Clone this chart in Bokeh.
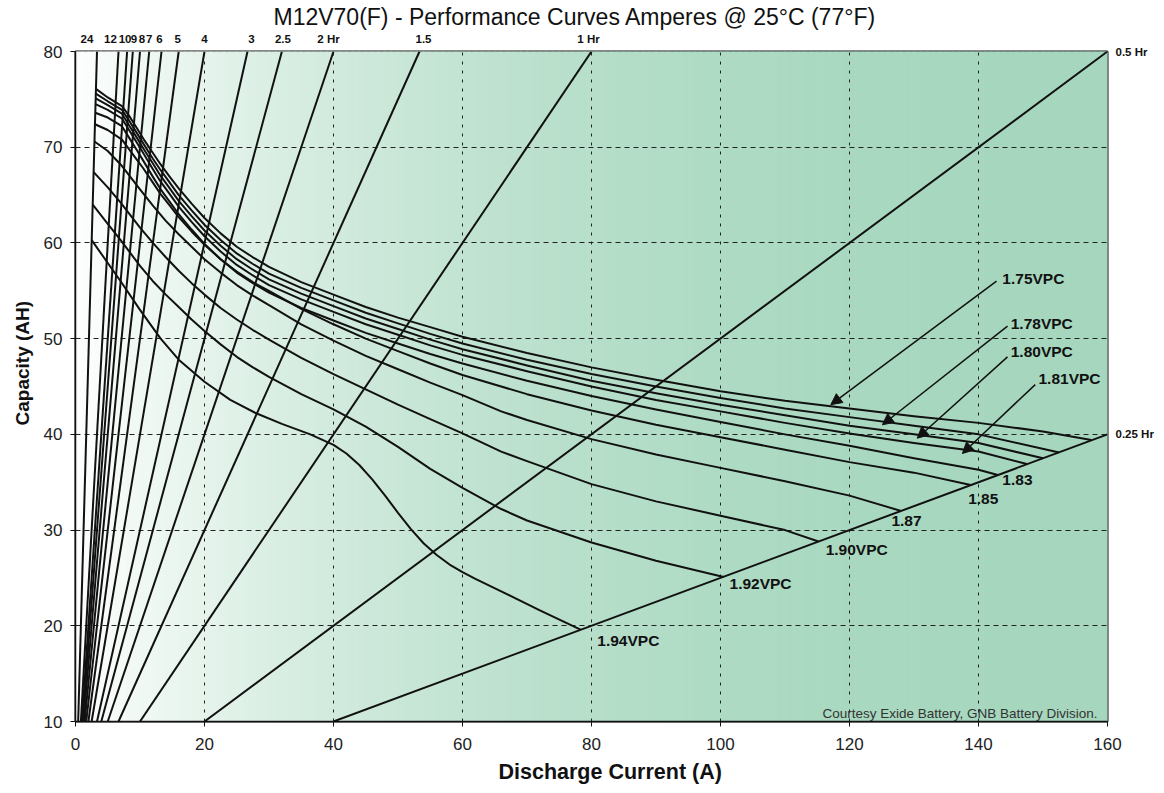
import numpy as np
from bokeh.plotting import figure
from bokeh.models import (ColumnDataSource, Arrow, NormalHead, Range1d, Label, Title,
                          LinearAxis, FixedTicker)
from bokeh.embed import file_html
from bokeh.resources import INLINE
from bokeh.core.properties import value

# ---------------- data ----------------
X_MIN, X_MAX = 0, 160
Y_MIN, Y_MAX = 10, 80
x_ticks = [0, 20, 40, 60, 80, 100, 120, 140, 160]
y_ticks = [10, 20, 30, 40, 50, 60, 70, 80]

# constant-time (hour-rate) lines: capacity = hours * current
hour_rates = [24, 12, 10, 9, 8, 7, 6, 5, 4, 3, 2.5, 2, 1.5, 1, 0.5, 0.25]
top_hours = [24, 12, 10, 9, 8, 7, 6, 5, 4, 3, 2.5, 2, 1.5, 1]
top_hour_labels = ["24", "12", "10", "9", "8", "7", "6", "5", "4", "3", "2.5", "2 Hr", "1.5", "1 Hr"]
side_hours = [0.5, 0.25]
side_hour_labels = ["0.5 Hr", "0.25 Hr"]

# end-voltage curves (volts per cell): current (A) vs capacity (AH)
v175_x = [3.17, 5.0, 7.2, 8.3, 9.5, 10.5, 12.0, 13.2, 14.5, 16.0, 18.0, 20.0, 22.5, 25.0, 27.5, 30.0, 35.0, 40.0, 45.0, 50.0, 55.0, 60.0, 70.0, 80.0, 90.0, 100.0, 110.0, 120.0, 130.0, 140.0, 150.0, 157.5]
v175_y = [76.1, 75.2, 74.3, 73.3, 72.0, 70.9, 69.4, 68.2, 67.0, 65.7, 64.1, 62.6, 61.0, 59.6, 58.5, 57.5, 55.9, 54.6, 53.3, 52.2, 51.2, 50.2, 48.5, 47.0, 45.7, 44.5, 43.5, 42.7, 41.9, 41.2, 40.3, 39.4]
v178_x = [3.15, 5.0, 7.2, 8.3, 9.5, 10.5, 12.0, 13.2, 14.5, 16.0, 18.0, 20.0, 22.5, 25.0, 27.5, 30.0, 35.0, 40.0, 45.0, 50.0, 55.0, 60.0, 70.0, 80.0, 90.0, 100.0, 110.0, 120.0, 130.0, 140.0, 152.5]
v178_y = [75.6, 74.8, 73.9, 72.8, 71.5, 70.4, 68.8, 67.6, 66.4, 65.0, 63.4, 61.9, 60.3, 58.9, 57.8, 56.8, 55.3, 54.0, 52.7, 51.6, 50.5, 49.5, 47.8, 46.3, 45.0, 43.8, 42.7, 41.8, 40.9, 40.0, 38.1]
v180_x = [3.13, 5.0, 7.2, 8.3, 9.5, 10.5, 12.0, 13.2, 14.5, 16.0, 18.0, 20.0, 22.5, 25.0, 27.5, 30.0, 35.0, 40.0, 45.0, 50.0, 55.0, 60.0, 70.0, 80.0, 90.0, 100.0, 110.0, 120.0, 130.0, 140.0, 150.0]
v180_y = [75.1, 74.4, 73.5, 72.3, 71.0, 69.9, 68.3, 67.0, 65.8, 64.4, 62.8, 61.3, 59.7, 58.3, 57.2, 56.2, 54.7, 53.4, 52.1, 51.0, 49.9, 48.9, 47.2, 45.6, 44.3, 43.1, 42.0, 40.9, 40.0, 39.1, 37.5]
v181_x = [3.10, 5.0, 7.2, 8.3, 9.5, 10.5, 12.0, 13.2, 14.5, 16.0, 18.0, 20.0, 22.5, 25.0, 27.5, 30.0, 35.0, 40.0, 45.0, 50.0, 55.0, 60.0, 70.0, 80.0, 90.0, 100.0, 110.0, 120.0, 130.0, 140.0, 147.5]
v181_y = [74.5, 73.9, 73.0, 71.8, 70.5, 69.4, 67.7, 66.4, 65.2, 63.8, 62.2, 60.7, 59.1, 57.7, 56.6, 55.6, 54.1, 52.8, 51.5, 50.4, 49.3, 48.3, 46.6, 45.0, 43.6, 42.4, 41.2, 40.1, 39.1, 38.2, 36.9]
v183_x = [3.07, 5.0, 7.2, 8.3, 9.5, 10.5, 12.0, 13.2, 14.5, 16.0, 18.0, 20.0, 22.5, 25.0, 27.5, 30.0, 35.0, 40.0, 45.0, 50.0, 55.0, 60.0, 70.0, 80.0, 90.0, 100.0, 110.0, 120.0, 130.0, 140.0, 143.0]
v183_y = [73.6, 73.1, 72.2, 71.0, 69.7, 68.6, 66.9, 65.6, 64.4, 63.0, 61.4, 59.9, 58.3, 56.9, 55.8, 54.8, 53.2, 51.9, 50.6, 49.5, 48.4, 47.4, 45.6, 44.0, 42.6, 41.3, 40.0, 38.8, 37.5, 36.3, 35.75]
v185_x = [3.02, 5.0, 7.2, 8.3, 9.5, 10.5, 12.0, 13.2, 14.5, 16.0, 18.0, 20.0, 22.5, 25.0, 27.5, 30.0, 35.0, 40.0, 45.0, 50.0, 55.0, 60.0, 70.0, 80.0, 90.0, 100.0, 110.0, 120.0, 130.0, 138.8]
v185_y = [72.4, 71.8, 70.8, 69.8, 68.7, 67.8, 66.3, 65.1, 64.0, 62.7, 61.2, 59.8, 58.3, 57.0, 55.9, 55.0, 53.1, 51.5, 50.0, 48.7, 47.4, 46.2, 44.2, 42.5, 41.0, 39.7, 38.4, 37.1, 36.0, 34.7]
v187_x = [2.94, 5.0, 7.0, 10.0, 12.0, 14.0, 16.0, 18.0, 20.0, 22.5, 25.0, 27.5, 30.0, 35.0, 40.0, 45.0, 50.0, 55.0, 60.0, 66.0, 70.0, 80.0, 90.0, 100.0, 110.0, 120.0, 128.0]
v187_y = [70.6, 69.6, 68.2, 65.6, 63.9, 62.3, 60.9, 59.6, 58.3, 56.9, 55.6, 54.5, 53.5, 51.5, 49.8, 48.2, 46.8, 45.4, 44.1, 42.4, 41.5, 39.5, 37.9, 36.5, 35.1, 33.6, 32.0]
v190_x = [2.81, 5.0, 7.0, 10.0, 12.0, 14.0, 16.0, 18.0, 20.0, 22.5, 25.0, 27.5, 30.0, 35.0, 40.0, 45.0, 50.0, 55.0, 60.0, 66.0, 70.0, 80.0, 90.0, 100.0, 110.0, 115.2]
v190_y = [67.4, 65.8, 64.2, 61.6, 60.0, 58.5, 57.1, 55.8, 54.6, 53.2, 52.0, 50.9, 49.9, 48.0, 46.3, 44.7, 43.1, 41.6, 40.1, 38.2, 37.2, 34.8, 33.0, 31.5, 30.0, 28.8]
v192_x = [2.67, 5.0, 7.0, 10.0, 12.0, 14.0, 16.0, 18.0, 20.0, 22.5, 25.0, 27.5, 30.0, 35.0, 40.0, 45.0, 50.0, 55.0, 60.0, 66.0, 70.0, 80.0, 90.0, 100.5]
v192_y = [64.0, 62.0, 60.3, 57.6, 56.0, 54.6, 53.3, 52.0, 50.8, 49.4, 48.1, 47.0, 46.0, 44.2, 42.6, 40.8, 38.7, 36.4, 34.4, 32.2, 31.0, 28.7, 26.8, 25.1]
v194_x = [2.51, 5.0, 7.0, 10.0, 13.2, 16.0, 20.0, 24.0, 28.0, 32.0, 36.4, 40.0, 42.0, 44.0, 46.0, 48.0, 50.0, 52.0, 54.0, 56.0, 58.0, 60.0, 62.0, 66.0, 72.0, 78.3]
v194_y = [60.3, 57.9, 56.0, 53.0, 50.0, 47.8, 45.5, 43.6, 42.2, 41.1, 40.0, 38.9, 38.0, 36.8, 35.3, 33.6, 31.8, 30.1, 28.6, 27.4, 26.4, 25.6, 24.9, 23.6, 21.6, 19.6]

# curve labels placed at the curve ends
end_label_text = ["1.83", "1.85", "1.87", "1.90VPC", "1.92VPC", "1.94VPC"]
end_label_x = [143.7, 138.4, 126.5, 116.3, 101.4, 80.9]
end_label_y = [35.2, 33.2, 31.0, 28.0, 24.4, 18.5]

# call-out labels with arrows
callout_text = ["1.75VPC", "1.78VPC", "1.80VPC", "1.81VPC"]
callout_x = [143.7, 145.0, 145.0, 149.3]
callout_y = [56.3, 51.6, 48.7, 45.8]
arrow_x0 = [142.8, 144.5, 144.5, 148.8]
arrow_y0 = [56.0, 51.3, 48.1, 45.2]
arrow_x1 = [117.1, 125.1, 130.5, 137.5]
arrow_y1 = [43.1, 41.0, 39.6, 38.0]

TITLE = "M12V70(F) - Performance Curves Amperes @ 25\u00b0C (77\u00b0F)"
XLABEL = "Discharge Current (A)"
YLABEL = "Capacity (AH)"
CREDIT = "Courtesy Exide Battery, GNB Battery Division."

# ---------------- figure ----------------
FONT = "Liberation Sans"
INK = "#111111"
W, H = 1164, 793
BL, BR, BT, BB = 75, 57, 51, 72
FRAME_W = W - BL - BR

p = figure(width=W, height=H, x_range=Range1d(X_MIN, X_MAX), y_range=Range1d(Y_MIN, Y_MAX),
           output_backend="svg", toolbar_location=None,
           min_border_left=BL, min_border_right=BR, min_border_top=BT, min_border_bottom=BB)
p.background_fill_color = "white"
p.border_fill_color = "white"
p.outline_line_color = INK
p.outline_line_width = 2

# gradient background (white -> mint green)
edges = np.linspace(X_MIN, X_MAX, 161)
mids = 0.5 * (edges[:-1] + edges[1:])
t = 1 - (1 - (mids - X_MIN) / (X_MAX - X_MIN)) ** 2.4
c0 = np.array([253, 254, 253])
c1 = np.array([166, 215, 190])
cols = ["#%02x%02x%02x" % tuple(int(round(v)) for v in (c0 + (c1 - c0) * tt)) for tt in t]
p.quad(left=edges[:-1], right=edges[1:], bottom=Y_MIN, top=Y_MAX, fill_color=cols,
       line_color=cols, line_width=1, level="image")

# grid
p.xgrid.ticker = x_ticks
p.ygrid.ticker = y_ticks
p.xgrid.grid_line_color = "#222222"
p.ygrid.grid_line_color = "#222222"
p.xgrid.grid_line_dash = "3 6"
p.ygrid.grid_line_dash = "5 4"
p.xgrid.grid_line_width = 1
p.ygrid.grid_line_width = 1

# axes
for ax in (p.xaxis, p.yaxis):
    ax.axis_line_color = INK
    ax.axis_line_width = 1.5
    ax.major_tick_line_color = INK
    ax.major_tick_in = 0
    ax.major_tick_out = 5
    ax.minor_tick_line_color = None
    ax.major_label_text_font = FONT
    ax.major_label_text_font_size = "17px"
    ax.major_label_text_color = "#222222"
p.xaxis.ticker = x_ticks
p.yaxis.ticker = y_ticks
p.xaxis.major_label_standoff = 11
p.yaxis.major_label_standoff = 8

# hour-rate lines
hx0 = [Y_MIN / h for h in hour_rates]
hy0 = [Y_MIN for h in hour_rates]
hx1 = [min(X_MAX, Y_MAX / h) for h in hour_rates]
hy1 = [h * min(X_MAX, Y_MAX / h) for h in hour_rates]
p.segment(x0=hx0, y0=hy0, x1=hx1, y1=hy1, line_color=INK, line_width=2)

# voltage curves
xs = [v175_x, v178_x, v180_x, v181_x, v183_x, v185_x, v187_x, v190_x, v192_x, v194_x]
ys = [v175_y, v178_y, v180_y, v181_y, v183_y, v185_y, v187_y, v190_y, v192_y, v194_y]
p.multi_line(xs=xs, ys=ys, line_color=INK, line_width=2, line_join="round")

# curve labels
p.text(x=end_label_x, y=end_label_y, text=end_label_text, text_font=value(FONT),
       text_font_size="15.5px", text_font_style="bold", text_color=INK,
       text_align="left", text_baseline="middle")
p.text(x=callout_x, y=callout_y, text=callout_text, text_font=value(FONT),
       text_font_size="15.5px", text_font_style="bold", text_color=INK,
       text_align="left", text_baseline="middle")

arrows = ColumnDataSource(dict(x0=arrow_x0, y0=arrow_y0, x1=arrow_x1, y1=arrow_y1))
p.add_layout(Arrow(source=arrows, x_start="x0", y_start="y0", x_end="x1", y_end="y1",
                   line_color=INK, line_width=1.5,
                   end=NormalHead(size=11, fill_color=INK, line_color=INK)))

# hour labels above the plot (an axis whose ticks sit at the hour lines' top ends)
units_per_px = (X_MAX - X_MIN) / FRAME_W
nudge_px = [-10, -8, -2, 1, 2, 0, -2, -1, 0, 4, 1, -5, 4, -3]
top_pos = [Y_MAX / h + d * units_per_px for h, d in zip(top_hours, nudge_px)]
top_axis = LinearAxis(ticker=FixedTicker(ticks=top_pos),
                      major_label_overrides={pos: lab for pos, lab in zip(top_pos, top_hour_labels)})
side_pos = [h * X_MAX for h in side_hours]
side_axis = LinearAxis(ticker=FixedTicker(ticks=side_pos),
                       major_label_overrides={pos: lab for pos, lab in zip(side_pos, side_hour_labels)})
for ax, sd in ((top_axis, 7), (side_axis, 8)):
    ax.axis_line_color = None
    ax.major_tick_line_color = None
    ax.minor_tick_line_color = None
    ax.major_tick_in = 0
    ax.major_tick_out = 0
    ax.major_label_standoff = sd
    ax.major_label_text_font = FONT
    ax.major_label_text_font_size = "11.5px"
    ax.major_label_text_font_style = "bold"
    ax.major_label_text_color = INK
p.add_layout(top_axis, "above")
p.add_layout(side_axis, "right")

# credit
p.add_layout(Label(x=X_MAX, y=Y_MIN, x_offset=-10, y_offset=1, text=CREDIT, text_font=FONT,
                   text_font_size="13.5px", text_color="#333333", text_align="right",
                   text_baseline="bottom"))

p.add_layout(Title(text=TITLE, align="left", offset=198, standoff=0, text_font=FONT,
                   text_font_size="23px", text_font_style="normal", text_color=INK), "above")
p.add_layout(Title(text=XLABEL, align="left", offset=423, standoff=10, text_font=FONT,
                   text_font_size="21.5px", text_font_style="bold", text_color=INK), "below")
p.add_layout(Title(text=YLABEL, align="left", offset=296, standoff=16, text_font=FONT,
                   text_font_size="19px", text_font_style="bold", text_color=INK), "left")

open("out.html", "w").write(file_html(p, INLINE))
